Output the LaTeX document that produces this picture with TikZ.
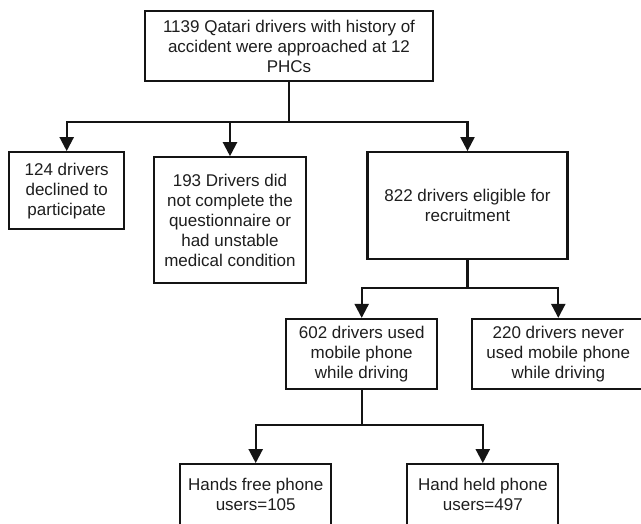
\documentclass[tikz,border=0pt]{standalone}
\usepackage{fontspec}
\setmainfont{Liberation Sans}
\usetikzlibrary{arrows.meta}
\definecolor{flowline}{RGB}{20, 20, 20}
\definecolor{flowtext}{RGB}{30, 30, 30}

\begin{document}
\begin{tikzpicture}[
  x=1pt, y=-1pt,
  box/.style   = {rectangle, draw=flowline, line width=2.2pt, fill=white,
                  align=center, inner sep=0pt, text=flowtext,
                  font=\fontsize{17}{20}\selectfont},
  line/.style  = {draw=flowline, line width=2.2pt},
  arrow/.style = {line, -{Triangle[width=14pt, length=14pt]}}
]
\useasboundingbox (0,0) rectangle (641,524);
\clip (0,0) rectangle (641,524);

\node[box, minimum width=288pt, minimum height=70pt]  (approached) at (289,46)    {1139 Qatari drivers with history of\\accident were approached at 12\\PHCs};
\node[box, minimum width=115pt, minimum height=77pt]  (declined)   at (66.7,190.7) {124 drivers\\declined to\\participate};
\node[box, minimum width=152pt, minimum height=126pt] (dropped)    at (230,220.3)  {193 Drivers did\\not complete the\\questionnaire or\\had unstable\\medical condition};
\node[box, minimum width=200pt, minimum height=107pt] (eligible)   at (467.5,205.7) {822 drivers eligible for\\recruitment};
\node[box, minimum width=151pt, minimum height=70pt]  (used)       at (361.7,354)  {602 drivers used\\mobile phone\\while driving};
\node[box, minimum width=172pt, minimum height=70pt]  (never)      at (558.3,354)  {220 drivers never\\used mobile phone\\while driving};
\node[box, minimum width=151pt, minimum height=61pt]  (handsfree)  at (255.7,494.7) {Hands free phone\\users=105};
\node[box, minimum width=151pt, minimum height=61pt]  (handheld)   at (482.8,494.7) {Hand held phone\\users=497};

% branching points
\coordinate (split1) at (289,121.7);
\coordinate (split2) at (467.5,287.7);
\coordinate (split3) at (361.7,425);

\draw[line]  (approached) -- (split1);
\draw[arrow] (split1) -| (declined);
\draw[arrow] (split1) -| (dropped);
\draw[arrow] (split1) -| (eligible);

\draw[line]  (eligible) -- (split2);
\draw[arrow] (split2) -| (used);
\draw[arrow] (split2) -| (never);

\draw[line]  (used) -- (split3);
\draw[arrow] (split3) -| (handsfree);
\draw[arrow] (split3) -| (handheld);

\end{tikzpicture}
\end{document}
